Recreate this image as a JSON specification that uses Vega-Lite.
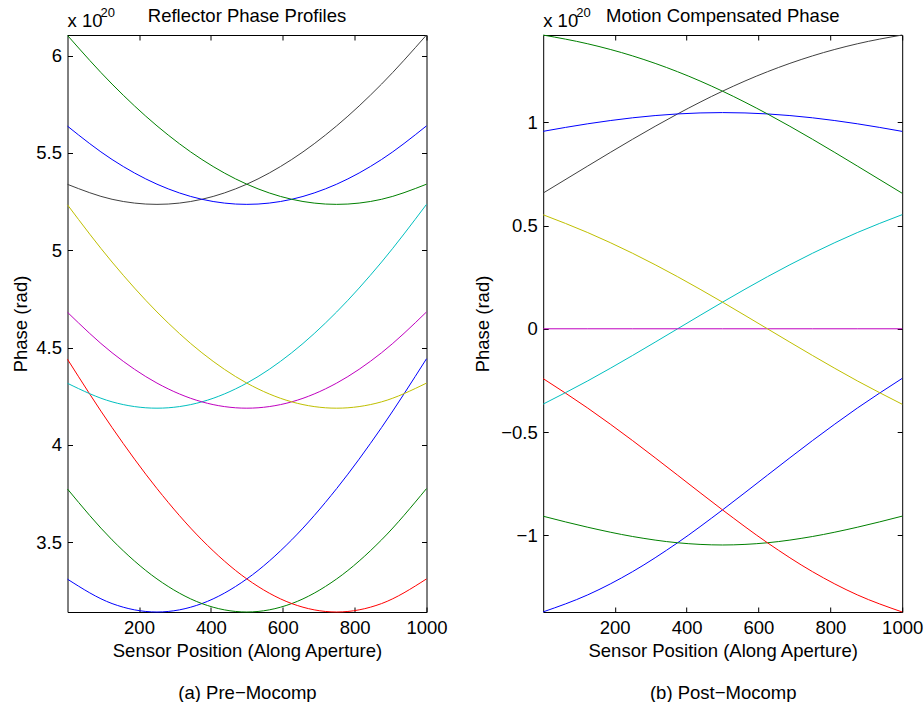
{
  "$schema": "https://vega.github.io/schema/vega-lite/v6.json",
  "background": "white",
  "padding": {"left": 10.5, "top": 6, "right": 5, "bottom": 0},
  "config": {
    "font": "Liberation Sans",
    "view": {"stroke": null},
    "axis": {
      "labelFont": "Liberation Sans", "labelFontSize": 18.5, "labelColor": "black",
      "titleFont": "Liberation Sans", "titleFontSize": 18.5, "titleFontWeight": "normal", "titleColor": "black",
      "domainColor": "black", "domainWidth": 1, "tickColor": "black", "tickWidth": 1, "tickSize": -5,
      "grid": false, "labelPadding": 11, "labelFlush": false, "labelOverlap": false
    },
    "axisBottom": {"labelPadding": 11.5, "titlePadding": 4.5},
    "title": {"font": "Liberation Sans", "fontSize": 18.5, "fontWeight": "normal", "color": "black", "offset": -19}
  },
  "datasets": {
    "pre": [
      {"s": "c1", "x": 1, "y": 3.31021}, {"s": "c1", "x": 125, "y": 3.18493}, {"s": "c1", "x": 250, "y": 3.14159}, {"s": "c1", "x": 375, "y": 3.18493}, {"s": "c1", "x": 500, "y": 3.31153}, {"s": "c1", "x": 625, "y": 3.5124}, {"s": "c1", "x": 750, "y": 3.77572}, {"s": "c1", "x": 875, "y": 4.08943}, {"s": "c1", "x": 1000, "y": 4.44288},
      {"s": "c2", "x": 1, "y": 3.7734}, {"s": "c2", "x": 125, "y": 3.5124}, {"s": "c2", "x": 250, "y": 3.31153}, {"s": "c2", "x": 375, "y": 3.18493}, {"s": "c2", "x": 500, "y": 3.14159}, {"s": "c2", "x": 625, "y": 3.18493}, {"s": "c2", "x": 750, "y": 3.31153}, {"s": "c2", "x": 875, "y": 3.5124}, {"s": "c2", "x": 1000, "y": 3.77572},
      {"s": "c3", "x": 1, "y": 4.43992}, {"s": "c3", "x": 125, "y": 4.08943}, {"s": "c3", "x": 250, "y": 3.77572}, {"s": "c3", "x": 375, "y": 3.5124}, {"s": "c3", "x": 500, "y": 3.31153}, {"s": "c3", "x": 625, "y": 3.18493}, {"s": "c3", "x": 750, "y": 3.14159}, {"s": "c3", "x": 875, "y": 3.18493}, {"s": "c3", "x": 1000, "y": 3.31153},
      {"s": "c4", "x": 1, "y": 4.31669}, {"s": "c4", "x": 125, "y": 4.22139}, {"s": "c4", "x": 250, "y": 4.18879}, {"s": "c4", "x": 375, "y": 4.22139}, {"s": "c4", "x": 500, "y": 4.31771}, {"s": "c4", "x": 625, "y": 4.47363}, {"s": "c4", "x": 750, "y": 4.68321}, {"s": "c4", "x": 875, "y": 4.93962}, {"s": "c4", "x": 1000, "y": 5.23599},
      {"s": "c5", "x": 1, "y": 4.68134}, {"s": "c5", "x": 125, "y": 4.47363}, {"s": "c5", "x": 250, "y": 4.31771}, {"s": "c5", "x": 375, "y": 4.22139}, {"s": "c5", "x": 500, "y": 4.18879}, {"s": "c5", "x": 625, "y": 4.22139}, {"s": "c5", "x": 750, "y": 4.31771}, {"s": "c5", "x": 875, "y": 4.47363}, {"s": "c5", "x": 1000, "y": 4.68321},
      {"s": "c6", "x": 1, "y": 5.23348}, {"s": "c6", "x": 125, "y": 4.93962}, {"s": "c6", "x": 250, "y": 4.68321}, {"s": "c6", "x": 375, "y": 4.47363}, {"s": "c6", "x": 500, "y": 4.31771}, {"s": "c6", "x": 625, "y": 4.22139}, {"s": "c6", "x": 750, "y": 4.18879}, {"s": "c6", "x": 875, "y": 4.22139}, {"s": "c6", "x": 1000, "y": 4.31771},
      {"s": "c7", "x": 1, "y": 5.33886}, {"s": "c7", "x": 125, "y": 5.2621}, {"s": "c7", "x": 250, "y": 5.23599}, {"s": "c7", "x": 375, "y": 5.2621}, {"s": "c7", "x": 500, "y": 5.33968}, {"s": "c7", "x": 625, "y": 5.46653}, {"s": "c7", "x": 750, "y": 5.63933}, {"s": "c7", "x": 875, "y": 5.85401}, {"s": "c7", "x": 1000, "y": 6.10616},
      {"s": "c8", "x": 1, "y": 5.63778}, {"s": "c8", "x": 125, "y": 5.46653}, {"s": "c8", "x": 250, "y": 5.33968}, {"s": "c8", "x": 375, "y": 5.2621}, {"s": "c8", "x": 500, "y": 5.23599}, {"s": "c8", "x": 625, "y": 5.2621}, {"s": "c8", "x": 750, "y": 5.33968}, {"s": "c8", "x": 875, "y": 5.46653}, {"s": "c8", "x": 1000, "y": 5.63933},
      {"s": "c9", "x": 1, "y": 6.104}, {"s": "c9", "x": 125, "y": 5.85401}, {"s": "c9", "x": 250, "y": 5.63933}, {"s": "c9", "x": 375, "y": 5.46653}, {"s": "c9", "x": 500, "y": 5.33968}, {"s": "c9", "x": 625, "y": 5.2621}, {"s": "c9", "x": 750, "y": 5.23599}, {"s": "c9", "x": 875, "y": 5.2621}, {"s": "c9", "x": 1000, "y": 5.33968}
    ],
    "post": [
      {"s": "c1", "x": 1, "y": -1.37113}, {"s": "c1", "x": 125, "y": -1.2887}, {"s": "c1", "x": 250, "y": -1.17612}, {"s": "c1", "x": 375, "y": -1.03646}, {"s": "c1", "x": 500, "y": -0.87726}, {"s": "c1", "x": 625, "y": -0.70899}, {"s": "c1", "x": 750, "y": -0.54199}, {"s": "c1", "x": 875, "y": -0.3842}, {"s": "c1", "x": 1000, "y": -0.24033},
      {"s": "c2", "x": 1, "y": -0.90794}, {"s": "c2", "x": 125, "y": -0.96123}, {"s": "c2", "x": 250, "y": -1.00618}, {"s": "c2", "x": 375, "y": -1.03646}, {"s": "c2", "x": 500, "y": -1.0472}, {"s": "c2", "x": 625, "y": -1.03646}, {"s": "c2", "x": 750, "y": -1.00618}, {"s": "c2", "x": 875, "y": -0.96123}, {"s": "c2", "x": 1000, "y": -0.90749},
      {"s": "c3", "x": 1, "y": -0.24142}, {"s": "c3", "x": 125, "y": -0.3842}, {"s": "c3", "x": 250, "y": -0.54199}, {"s": "c3", "x": 375, "y": -0.70899}, {"s": "c3", "x": 500, "y": -0.87726}, {"s": "c3", "x": 625, "y": -1.03646}, {"s": "c3", "x": 750, "y": -1.17612}, {"s": "c3", "x": 875, "y": -1.2887}, {"s": "c3", "x": 1000, "y": -1.37168},
      {"s": "c4", "x": 1, "y": -0.36465}, {"s": "c4", "x": 125, "y": -0.25224}, {"s": "c4", "x": 250, "y": -0.12892}, {"s": "c4", "x": 375, "y": 0}, {"s": "c4", "x": 500, "y": 0.12892}, {"s": "c4", "x": 625, "y": 0.25224}, {"s": "c4", "x": 750, "y": 0.3655}, {"s": "c4", "x": 875, "y": 0.46599}, {"s": "c4", "x": 1000, "y": 0.55278},
      {"s": "c5", "x": 1, "y": 0}, {"s": "c5", "x": 125, "y": 0}, {"s": "c5", "x": 250, "y": 0}, {"s": "c5", "x": 375, "y": 0}, {"s": "c5", "x": 500, "y": 0}, {"s": "c5", "x": 625, "y": 0}, {"s": "c5", "x": 750, "y": 0}, {"s": "c5", "x": 875, "y": 0}, {"s": "c5", "x": 1000, "y": 0},
      {"s": "c6", "x": 1, "y": 0.55214}, {"s": "c6", "x": 125, "y": 0.46599}, {"s": "c6", "x": 250, "y": 0.3655}, {"s": "c6", "x": 375, "y": 0.25224}, {"s": "c6", "x": 500, "y": 0.12892}, {"s": "c6", "x": 625, "y": 0}, {"s": "c6", "x": 750, "y": -0.12892}, {"s": "c6", "x": 875, "y": -0.25224}, {"s": "c6", "x": 1000, "y": -0.3655},
      {"s": "c7", "x": 1, "y": 0.65752}, {"s": "c7", "x": 125, "y": 0.78847}, {"s": "c7", "x": 250, "y": 0.91828}, {"s": "c7", "x": 375, "y": 1.04071}, {"s": "c7", "x": 500, "y": 1.15089}, {"s": "c7", "x": 625, "y": 1.24514}, {"s": "c7", "x": 750, "y": 1.32162}, {"s": "c7", "x": 875, "y": 1.38038}, {"s": "c7", "x": 1000, "y": 1.42295},
      {"s": "c8", "x": 1, "y": 0.95644}, {"s": "c8", "x": 125, "y": 0.9929}, {"s": "c8", "x": 250, "y": 1.02197}, {"s": "c8", "x": 375, "y": 1.04071}, {"s": "c8", "x": 500, "y": 1.0472}, {"s": "c8", "x": 625, "y": 1.04071}, {"s": "c8", "x": 750, "y": 1.02197}, {"s": "c8", "x": 875, "y": 0.9929}, {"s": "c8", "x": 1000, "y": 0.95612},
      {"s": "c9", "x": 1, "y": 1.42266}, {"s": "c9", "x": 125, "y": 1.38038}, {"s": "c9", "x": 250, "y": 1.32162}, {"s": "c9", "x": 375, "y": 1.24514}, {"s": "c9", "x": 500, "y": 1.15089}, {"s": "c9", "x": 625, "y": 1.04071}, {"s": "c9", "x": 750, "y": 0.91828}, {"s": "c9", "x": 875, "y": 0.78847}, {"s": "c9", "x": 1000, "y": 0.65647}
    ]
  },
  "spacing": 25.7,
  "hconcat": [
    {
      "width": 359, "height": 577,
      "title": {"text": "Reflector Phase Profiles"},
      "layer": [
        {
          "data": {"name": "pre"},
          "mark": {"type": "line", "interpolate": "monotone", "strokeWidth": 1},
          "encoding": {
            "x": {"field": "x", "type": "quantitative", "scale": {"domain": [1, 1000], "nice": false, "zero": false},
                  "axis": {"values": [200, 400, 600, 800, 1000], "format": "d", "title": ["Sensor Position (Along Aperture)", "(a) Pre−Mocomp"], "titleLineHeight": 42}},
            "y": {"field": "y", "type": "quantitative", "scale": {"domain": [3.1416, 6.1062], "nice": false, "zero": false},
                  "axis": {"values": [3.5, 4, 4.5, 5, 5.5, 6], "format": ".1~f", "title": "Phase (rad)", "titlePadding": 5.5}},
            "color": {"field": "s", "type": "nominal", "legend": null,
                      "scale": {"domain": ["c1", "c2", "c3", "c4", "c5", "c6", "c7", "c8", "c9"],
                                "range": ["#0000ff", "#008000", "#ff0000", "#00bfbf", "#bf00bf", "#bfbf00", "#404040", "#0000ff", "#008000"]}}
          }
        },
        {
          "data": {"name": "pre"},
          "mark": {"type": "line", "strokeOpacity": 0},
          "encoding": {
            "x": {"field": "x", "type": "quantitative", "axis": {"orient": "top", "labels": false, "title": null, "values": [200, 400, 600, 800, 1000]}},
            "y": {"field": "y", "type": "quantitative", "axis": {"orient": "right", "labels": false, "title": null, "values": [3.5, 4, 4.5, 5, 5.5, 6]}},
            "detail": {"field": "s"}
          }
        },
        {
          "data": {"values": [{}]},
          "mark": {"type": "text", "text": "x 10", "align": "left", "baseline": "alphabetic", "dy": -8.5, "fontSize": 18.5, "font": "Liberation Sans", "color": "black"},
          "encoding": {"x": {"datum": 1, "type": "quantitative", "axis": null}, "y": {"datum": 6.1062, "type": "quantitative", "axis": null}}
        },
        {
          "data": {"values": [{}]},
          "mark": {"type": "text", "text": "20", "align": "left", "baseline": "alphabetic", "dx": 33, "dy": -18.3, "fontSize": 13, "font": "Liberation Sans", "color": "black"},
          "encoding": {"x": {"datum": 1, "type": "quantitative", "axis": null}, "y": {"datum": 6.1062, "type": "quantitative", "axis": null}}
        }
      ],
      "resolve": {"axis": {"x": "independent", "y": "independent"}}
    },
    {
      "width": 359, "height": 577,
      "title": {"text": "Motion Compensated Phase"},
      "layer": [
        {
          "data": {"name": "post"},
          "mark": {"type": "line", "interpolate": "monotone", "strokeWidth": 1},
          "encoding": {
            "x": {"field": "x", "type": "quantitative", "scale": {"domain": [1, 1000], "nice": false, "zero": false},
                  "axis": {"values": [200, 400, 600, 800, 1000], "format": "d", "title": ["Sensor Position (Along Aperture)", "(b) Post−Mocomp"], "titleLineHeight": 42}},
            "y": {"field": "y", "type": "quantitative", "scale": {"domain": [-1.3718, 1.423], "nice": false, "zero": false},
                  "axis": {"values": [-1, -0.5, 0, 0.5, 1], "format": ".1~f", "title": "Phase (rad)", "titlePadding": 8}},
            "color": {"field": "s", "type": "nominal", "legend": null,
                      "scale": {"domain": ["c1", "c2", "c3", "c4", "c5", "c6", "c7", "c8", "c9"],
                                "range": ["#0000ff", "#008000", "#ff0000", "#00bfbf", "#bf00bf", "#bfbf00", "#404040", "#0000ff", "#008000"]}}
          }
        },
        {
          "data": {"name": "post"},
          "mark": {"type": "line", "strokeOpacity": 0},
          "encoding": {
            "x": {"field": "x", "type": "quantitative", "axis": {"orient": "top", "labels": false, "title": null, "values": [200, 400, 600, 800, 1000]}},
            "y": {"field": "y", "type": "quantitative", "axis": {"orient": "right", "labels": false, "title": null, "values": [-1, -0.5, 0, 0.5, 1]}},
            "detail": {"field": "s"}
          }
        },
        {
          "data": {"values": [{}]},
          "mark": {"type": "text", "text": "x 10", "align": "left", "baseline": "alphabetic", "dy": -8.5, "fontSize": 18.5, "font": "Liberation Sans", "color": "black"},
          "encoding": {"x": {"datum": 1, "type": "quantitative", "axis": null}, "y": {"datum": 1.423, "type": "quantitative", "axis": null}}
        },
        {
          "data": {"values": [{}]},
          "mark": {"type": "text", "text": "20", "align": "left", "baseline": "alphabetic", "dx": 33, "dy": -18.3, "fontSize": 13, "font": "Liberation Sans", "color": "black"},
          "encoding": {"x": {"datum": 1, "type": "quantitative", "axis": null}, "y": {"datum": 1.423, "type": "quantitative", "axis": null}}
        }
      ],
      "resolve": {"axis": {"x": "independent", "y": "independent"}}
    }
  ]
}
